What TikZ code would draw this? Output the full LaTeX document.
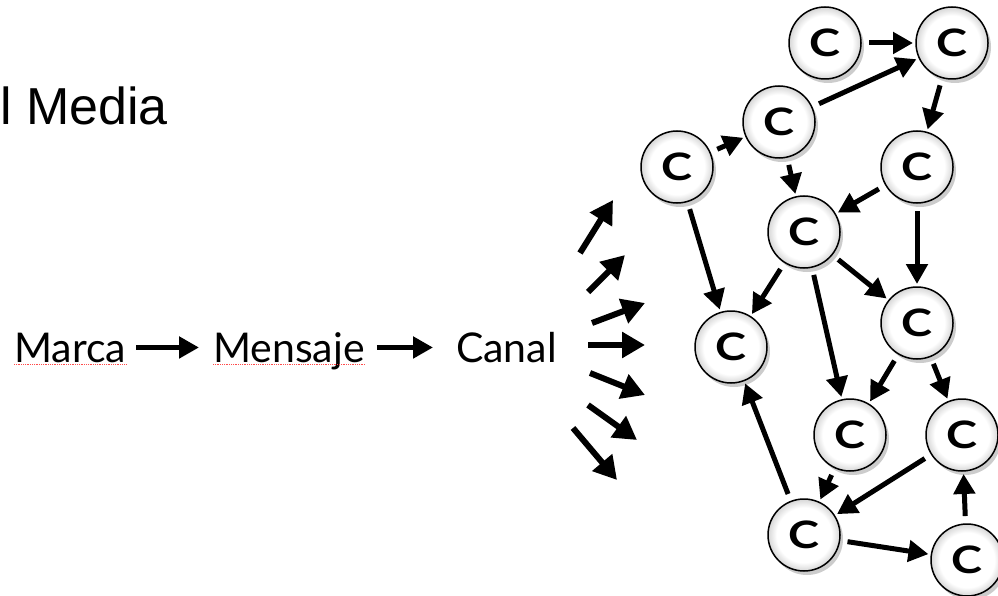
\documentclass[tikz,border=0pt]{standalone}
\usepackage{fontspec}
\setmainfont{Lato}
\newfontfamily\arialfont{Liberation Sans}
\usetikzlibrary{arrows.meta, shadows}

\pgfdeclareradialshading{cglow}{\pgfpoint{0bp}{0bp}}{color(0bp)=(white); color(19bp)=(white); color(25bp)=(black!16); color(50bp)=(black!16)}
\newcommand{\cletter}{\scalebox{1.3}[1.05]{C}}

\begin{document}
\begin{tikzpicture}[x=1pt, y=-1pt,
  word/.style={anchor=base west, inner sep=0pt, font=\fontsize{41}{41}\selectfont},
  cnode/.style={draw, circle, line width=1.5pt, minimum size=72pt, inner sep=0pt, outer sep=0pt,
    shading=cglow, font=\fontsize{36}{36}\selectfont\bfseries,
    drop shadow={shadow xshift=3pt, shadow yshift=-4pt, opacity=0.2, fill=black}},
  bigarrow/.style={line width=5pt, -{Triangle[length=20pt, width=21pt]}},
  fanarrow/.style={line width=6pt, -{Triangle[length=23pt, width=25pt]}},
  link/.style={line width=5pt, -{Triangle[length=20pt, width=21pt]}, shorten <=8pt, shorten >=3pt},
  spell/.style={red!70, densely dotted, line width=0.8pt}]
\useasboundingbox (0,0) rectangle (998,596);

\node[anchor=base west, inner sep=0pt, font=\arialfont\fontsize{52}{52}\selectfont] (media) at (0,125) {l Media};

\node[word] (marca) at (14,362) {Marca};
\node[word] (mensaje) at (213,362) {Mensaje};
\node[word] (canal) at (456,362) {Canal};
\draw[spell] ([yshift=-2pt]marca.base west) -- ([yshift=-2pt]marca.base east);
\draw[spell] ([yshift=-2pt]mensaje.base west) -- ([yshift=-2pt]mensaje.base east);
\draw[bigarrow, shorten <=10pt, shorten >=14pt] (marca.east) -- (marca.east -| mensaje.west);
\draw[bigarrow, shorten <=12pt, shorten >=23pt] (mensaje.east |- marca.east) -- (marca.east -| canal.west);

% Fan
\foreach \i/\tx/\ty/\hx/\hy in {1/580/253/613/200, 2/588/292/625/255, 3/592/323/645/303,
    4/588/345/645/345, 5/590/373/645/395, 6/588/405/637/440, 7/573/428/617/480} {
  \coordinate (t\i) at (\tx,\ty);
  \coordinate (h\i) at (\hx,\hy);
  \draw[fanarrow] (t\i) -- (h\i);
}

% Network
\node[cnode] (ca) at (825,43) {\cletter};
\node[cnode] (cb) at (952,43) {\cletter};
\node[cnode] (cc) at (779,122) {\cletter};
\node[cnode] (cd) at (677,167) {\cletter};
\node[cnode] (ce) at (917,167) {\cletter};
\node[cnode] (cf) at (804,232) {\cletter};
\node[cnode] (cg) at (731,347) {\cletter};
\node[cnode] (ch) at (917,323) {\cletter};
\node[cnode] (ci) at (850,435) {\cletter};
\node[cnode] (cj) at (962,435) {\cletter};
\node[cnode] (ck) at (804,535) {\cletter};
\node[cnode] (cl) at (967,560) {\cletter};

% Arrows
\draw[link] (ca) -- (cb);
\draw[link] (cc) -- (cb);
\draw[link] (cb) -- (ce);
\draw[link] (cd) -- (cc);
\draw[link] (cc) -- (cf);
\draw[link] (ce) -- (cf);
\draw[link] (cd) -- (cg);
\draw[link] (cf) -- (cg);
\draw[link] (cf) -- (ci);
\draw[link] (cf) -- (ch);
\draw[link] (ce) -- (ch);
\draw[link] (ch) -- (ci);
\draw[link] (ch) -- (cj);
\draw[link] (ci) -- (ck);
\draw[link] (cj) -- (ck);
\draw[link] (ck) -- (cg);
\draw[link] (ck) -- (cl);
\draw[link] (cl) -- (cj);
\end{tikzpicture}
\end{document}
